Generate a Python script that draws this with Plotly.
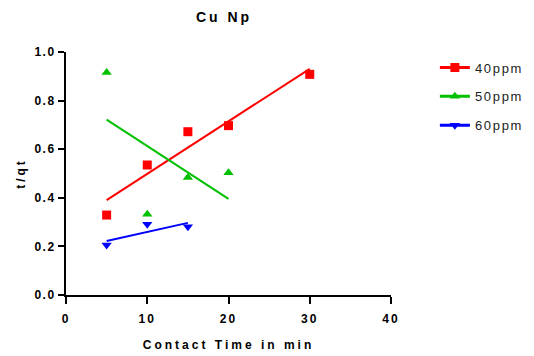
import numpy as np
import plotly.graph_objects as go

title = "Cu Np"
x_title = "Contact Time in min"
y_title = "t/qt"

series_names = ["40ppm", "50ppm", "60ppm"]
x40 = [5, 10, 15, 20, 30]
y40 = [0.329, 0.535, 0.672, 0.697, 0.908]
x50 = [5, 10, 15, 20]
y50 = [0.916, 0.332, 0.484, 0.503]
x60 = [5, 10, 15]
y60 = [0.206, 0.291, 0.281]

x_ticks = [0, 10, 20, 30, 40]
x_tick_labels = ["0", "10", "20", "30", "40"]
y_ticks = [0, 0.2, 0.4, 0.6, 0.8, 1.0]
y_tick_labels = ["0.0", "0.2", "0.4", "0.6", "0.8", "1.0"]

colors = ["#FF0000", "#00C000", "#0000FF"]
symbols = ["square", "triangle-up", "triangle-down"]

xs = [x40, x50, x60]
ys = [y40, y50, y60]


def spaced(t, px):
    return '<span style="letter-spacing:%spx">%s</span>' % (px, t)


fig = go.Figure()
for i, (name, x, y) in enumerate(zip(series_names, xs, ys)):
    x = np.array(x, dtype=float)
    y = np.array(y, dtype=float)
    m, b = np.polyfit(x, y, 1)
    xf = np.array([x.min(), x.max()])
    fig.add_trace(go.Scatter(x=xf, y=m * xf + b, mode="lines",
                             line=dict(color=colors[i], width=2),
                             showlegend=False, hoverinfo="skip"))
    fig.add_trace(go.Scatter(x=x, y=y, mode="markers",
                             marker=dict(color=colors[i], symbol=symbols[i], size=9),
                             showlegend=False))
    fig.add_trace(go.Scatter(x=[None], y=[None], mode="lines+markers",
                             name=spaced(name, 1.7),
                             legendgroup=name,
                             line=dict(color=colors[i], width=3),
                             marker=dict(color=colors[i], symbol=symbols[i], size=9)))

fam = "Liberation Sans, Arial, sans-serif"
axis_font = dict(family=fam, size=12, color="#000", weight="bold")
tick_font = dict(family=fam, size=12, color="#000", weight="bold")
fig.update_layout(
    width=534, height=356,
    margin=dict(l=66, r=143, t=52, b=61, autoexpand=False),
    paper_bgcolor="white", plot_bgcolor="white",
    title=dict(text=spaced(title, 3),
               x=224 / 534, xanchor="center", y=1 - 17 / 356, yanchor="middle",
               font=dict(family=fam, size=14, color="#000", weight="bold")),
    legend=dict(x=1.135, y=0.998, xanchor="left", yanchor="top",
                font=dict(family=fam, size=13, color="#222"),
                tracegroupgap=9, bgcolor="rgba(0,0,0,0)", itemwidth=30),
    xaxis=dict(range=[0, 40], tickvals=x_ticks, ticktext=[spaced(t, 2) for t in x_tick_labels],
               showgrid=False, zeroline=False, showline=True, linecolor="#000", linewidth=2,
               ticks="outside", ticklen=7, tickwidth=2, tickcolor="#000",
               tickfont=tick_font, ticklabelstandoff=5, automargin=False,
               title=dict(text=spaced(x_title, 3), font=axis_font, standoff=15)),
    yaxis=dict(range=[0, 1.0], tickvals=y_ticks, ticktext=[spaced(t, 1.5) for t in y_tick_labels],
               showgrid=False, zeroline=False, showline=True, linecolor="#000", linewidth=2,
               ticks="outside", ticklen=6, tickwidth=2, tickcolor="#000",
               tickfont=tick_font, automargin=False,
               title=dict(text=spaced(y_title, 3), font=axis_font, standoff=6)),
)

fig.write_html("out.html")
